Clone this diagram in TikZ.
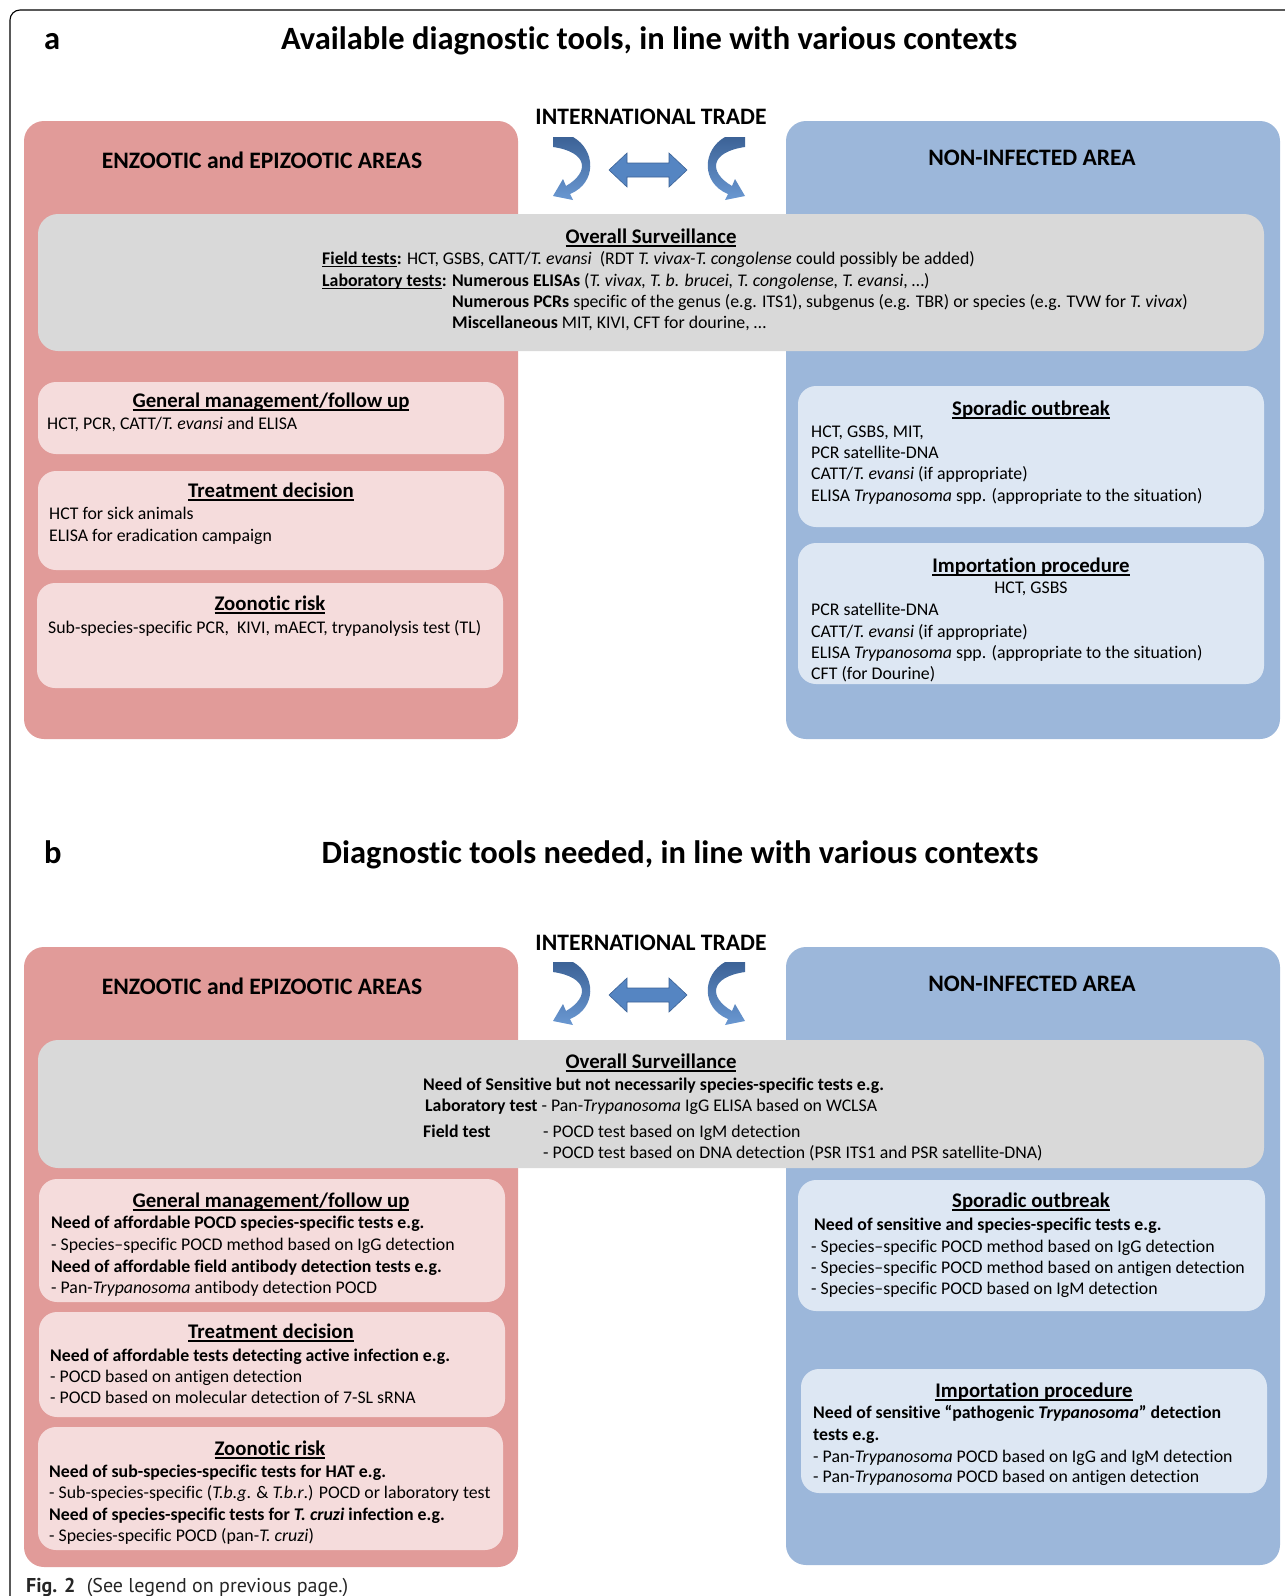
\documentclass[tikz,border=0pt]{standalone}
\usepackage{fontspec}
\setmainfont[Ligatures=NoCommon]{Carlito}
\newfontfamily\capfont{PT Sans}
\usetikzlibrary{fit}
\definecolor{pinkbig}{HTML}{E19B99}
\definecolor{pinkin}{HTML}{F5DCDC}
\definecolor{bluebig}{HTML}{9CB7DA}
\definecolor{bluein}{HTML}{DDE7F3}
\definecolor{grayin}{HTML}{D9D9D9}
\definecolor{arrblue}{HTML}{5585C2}
\definecolor{arrdark}{HTML}{3C6296}
\definecolor{arrlight}{HTML}{6A98D2}
\newcommand\myul[1]{\setbox0\hbox{#1}\rlap{\rule[-3.6pt]{\wd0}{1.5pt}}\box0}
\newcommand\myuls[1]{\setbox0\hbox{#1}\rlap{\rule[-3.3pt]{\wd0}{1.4pt}}\box0}
\newcommand\bodysize{\fontsize{17.8}{21.5}\selectfont}
\newcommand\headsize{\fontsize{20.8}{25}\selectfont}
\newcommand\leftcurl{%
  \shade[top color=arrdark, bottom color=arrlight]
    (553,137) -- (573,137) .. controls (596,150) and (597,183) .. (570,194)
    -- (573,200) -- (553,196) -- (563,179) -- (566,186)
    .. controls (590,172) and (588,152) .. (553,147) -- cycle;}
\newcommand\dblarrow{%
  \fill[arrblue, draw=arrdark, line width=0.6pt]
    (609,170) -- (627,153) -- (627,163) -- (669,163) -- (669,153) -- (687,170)
    -- (669,187) -- (669,177) -- (627,177) -- (627,187) -- cycle;}
\tikzset{
  bigpink/.style={fill=pinkbig, rounded corners=20pt, inner sep=0pt},
  bigblue/.style={fill=bluebig, rounded corners=20pt, inner sep=0pt},
  pinkbox/.style={fill=pinkin, rounded corners=18pt, inner sep=0pt},
  bluebox/.style={fill=bluein, rounded corners=18pt, inner sep=0pt},
  graybox/.style={fill=grayin, rounded corners=20pt, inner sep=0pt},
  txt/.style={inner sep=0pt, anchor=base west, font=\bodysize},
  ctxt/.style={inner sep=0pt, anchor=base, font=\bodysize},
  hdt/.style={inner sep=0pt, anchor=base, font=\headsize\bfseries},
  areat/.style={inner sep=0pt, anchor=base, font=\fontsize{23.6}{28}\selectfont\bfseries},
  ttl/.style={inner sep=0pt, anchor=base, font=\fontsize{32.5}{38}\selectfont\bfseries},
}
\begin{document}
\begin{tikzpicture}[x=1pt, y=-1pt]
\useasboundingbox (0,0) rectangle (1285,1596);
\draw[line width=1.1pt, rounded corners=10pt] (1300,10) -- (10,10) -- (10,1610);

% ================= PART A =================
\node[ttl, anchor=base west] (alab) at (44,49) {a};
\node[ttl] (atitle) at (649,49) {Available diagnostic tools, in line with various contexts};
\node[areat] (aint) at (651,124) {INTERNATIONAL TRADE};

\node[fit={(24,121) (518,739)}, bigpink] (apink) {};
\node[fit={(786,121) (1280,739)}, bigblue] (ablue) {};
\node[areat] (aenz) at (262,168) {ENZOOTIC and EPIZOOTIC AREAS};
\node[areat] (anon) at (1032,165) {NON-INFECTED AREA};

\leftcurl
\dblarrow
\begin{scope}[cm={-1,0,0,1,(1298,0)}]
\leftcurl
\end{scope}

\node[fit={(38,214) (1264,351)}, graybox] (agray) {};
\node[hdt] (asv) at (651,243) {\myul{Overall Surveillance}};
\node[txt] (asf) at (322,264) {\textbf{\myuls{Field tests}:} HCT, GSBS, CATT/\textit{T. evansi}\ \ (RDT \textit{T. vivax-T. congolense} could possibly be added)};
\node[txt] (asl) at (322,286) {\textbf{\myuls{Laboratory tests}: Numerous ELISAs} (\textit{T. vivax, T. b. brucei, T. congolense, T. evansi}, …)};
\node[txt] (asp) at (452,307) {\textbf{Numerous PCRs} specific of the genus (e.g. ITS1), subgenus (e.g. TBR) or species (e.g. TVW for \textit{T. vivax})};
\node[txt] (asm) at (452,328) {\textbf{Miscellaneous} MIT, KIVI, CFT for dourine, …};

% left boxes a
\node[fit={(38,382) (504,454)}, pinkbox] (agm) {};
\node[hdt] (agmt) at (271,407) {\myul{General management/follow up}};
\node[txt] (agm1) at (47,429) {HCT, PCR, CATT/\textit{T. evansi} and ELISA};

\node[fit={(38,471) (504,570)}, pinkbox] (atd) {};
\node[hdt] (atdt) at (271,497) {\myul{Treatment decision}};
\node[txt] (atd1) at (49,519) {HCT for sick animals};
\node[txt] (atd2) at (49,541) {ELISA for eradication campaign};

\node[fit={(37,583) (503,688)}, pinkbox] (azr) {};
\node[hdt] (azrt) at (270,610) {\myul{Zoonotic risk}};
\node[txt] (azr1) at (48,633) {Sub-species-specific PCR,\ \ KIVI, mAECT, trypanolysis test (TL)};

% right boxes a
\node[fit={(798,386) (1264,527)}, bluebox] (aso) {};
\node[hdt] (asot) at (1031,415) {\myul{Sporadic outbreak}};
\node[txt] (aso1) at (811,437) {HCT, GSBS, MIT,};
\node[txt] (aso2) at (811,458) {PCR satellite-DNA};
\node[txt] (aso3) at (811,479) {CATT/\textit{T. evansi} (if appropriate)};
\node[txt] (aso4) at (811,501) {ELISA \textit{Trypanosoma} spp. (appropriate to the situation)};

\node[fit={(798,543) (1264,684)}, bluebox] (aip) {};
\node[hdt] (aipt) at (1031,572) {\myul{Importation procedure}};
\node[ctxt] (aip0) at (1031,593) {HCT, GSBS};
\node[txt] (aip1) at (811,615) {PCR satellite-DNA};
\node[txt] (aip2) at (811,637) {CATT/\textit{T. evansi} (if appropriate)};
\node[txt] (aip3) at (811,658) {ELISA \textit{Trypanosoma} spp. (appropriate to the situation)};
\node[txt] (aip4) at (811,679) {CFT (for Dourine)};

% ================= PART B =================
\node[ttl, anchor=base west] (blab) at (44,863) {b};
\node[ttl] (btitle) at (680,863) {Diagnostic tools needed, in line with various contexts};
\node[areat] (bint) at (651,950) {INTERNATIONAL TRADE};

\node[fit={(24,947) (518,1567)}, bigpink] (bpink) {};
\node[fit={(786,947) (1280,1565)}, bigblue] (bblue) {};
\node[areat] (benz) at (262,994) {ENZOOTIC and EPIZOOTIC AREAS};
\node[areat] (bnon) at (1032,991) {NON-INFECTED AREA};

\begin{scope}[yshift=-825pt]
\leftcurl
\dblarrow
\begin{scope}[cm={-1,0,0,1,(1298,0)}]
\leftcurl
\end{scope}
\end{scope}

\node[fit={(38,1040) (1264,1168)}, graybox] (bgray) {};
\node[hdt] (bsv) at (651,1068) {\myul{Overall Surveillance}};
\node[txt] (bsn) at (423,1090) {\textbf{Need of Sensitive but not necessarily species-specific tests e.g.}};
\node[txt] (bsl) at (425,1111) {\textbf{Laboratory test} - Pan-\textit{Trypanosoma} IgG ELISA based on WCLSA};
\node[txt] (bsf) at (423,1137) {\textbf{Field test}};
\node[txt] (bsf1) at (543,1137) {- POCD test based on IgM detection};
\node[txt] (bsf2) at (543,1158) {- POCD test based on DNA detection (PSR ITS1 and PSR satellite-DNA)};

% left boxes b
\node[fit={(39,1179) (505,1302)}, pinkbox] (bgm) {};
\node[hdt] (bgmt) at (271,1207) {\myul{General management/follow up}};
\node[txt] (bgm1) at (51,1228) {\textbf{Need of affordable POCD species-specific tests e.g.}};
\node[txt] (bgm2) at (51,1250) {- Species–specific POCD method based on IgG detection};
\node[txt] (bgm3) at (51,1272) {\textbf{Need of affordable field antibody detection tests e.g.}};
\node[txt] (bgm4) at (51,1293) {- Pan-\textit{Trypanosoma} antibody detection POCD};

\node[fit={(39,1312) (505,1417)}, pinkbox] (btd) {};
\node[hdt] (btdt) at (271,1338) {\myul{Treatment decision}};
\node[txt] (btd1) at (50,1361) {\textbf{Need of affordable tests detecting active infection e.g.}};
\node[txt] (btd2) at (50,1382) {- POCD based on antigen detection};
\node[txt] (btd3) at (50,1403) {- POCD based on molecular detection of 7-SL sRNA};

\node[fit={(38,1427) (503,1550)}, pinkbox] (bzr) {};
\node[hdt] (bzrt) at (270,1455) {\myul{Zoonotic risk}};
\node[txt] (bzr1) at (49,1477) {\textbf{Need of sub-species-specific tests for HAT e.g.}};
\node[txt] (bzr2) at (49,1498) {- Sub-species-specific (\textit{T.b.g}. \& \textit{T.b.r}.) POCD or laboratory test};
\node[txt] (bzr3) at (49,1520) {\textbf{Need of species-specific tests for \textit{T. cruzi} infection e.g.}};
\node[txt] (bzr4) at (49,1541) {- Species-specific POCD (pan-\textit{T. cruzi})};

% right boxes b
\node[fit={(798,1180) (1265,1311)}, bluebox] (bso) {};
\node[hdt] (bsot) at (1031,1207) {\myul{Sporadic outbreak}};
\node[txt] (bso1) at (814,1230) {\textbf{Need of sensitive and species-specific tests e.g.}};
\node[txt] (bso2) at (811,1252) {- Species–specific POCD method based on IgG detection};
\node[txt] (bso3) at (811,1273) {- Species–specific POCD method based on antigen detection};
\node[txt] (bso4) at (811,1294) {- Species–specific POCD based on IgM detection};

\node[fit={(801,1369) (1267,1493)}, bluebox] (bip) {};
\node[hdt] (bipt) at (1034,1397) {\myul{Importation procedure}};
\node[txt] (bip1) at (813,1418) {\textbf{Need of sensitive “pathogenic \textit{Trypanosoma}” detection}};
\node[txt] (bip2) at (813,1440) {\textbf{tests e.g.}};
\node[txt] (bip3) at (813,1462) {- Pan-\textit{Trypanosoma} POCD based on IgG and IgM detection};
\node[txt] (bip4) at (813,1482) {- Pan-\textit{Trypanosoma} POCD based on antigen detection};

% caption
\node[inner sep=0pt, anchor=base west, font=\capfont\fontsize{20}{23}\selectfont, text=black!85] (cap) at (26,1592) {\textbf{Fig. 2}\hspace{6pt} (See legend on previous page.)};
\end{tikzpicture}
\end{document}
